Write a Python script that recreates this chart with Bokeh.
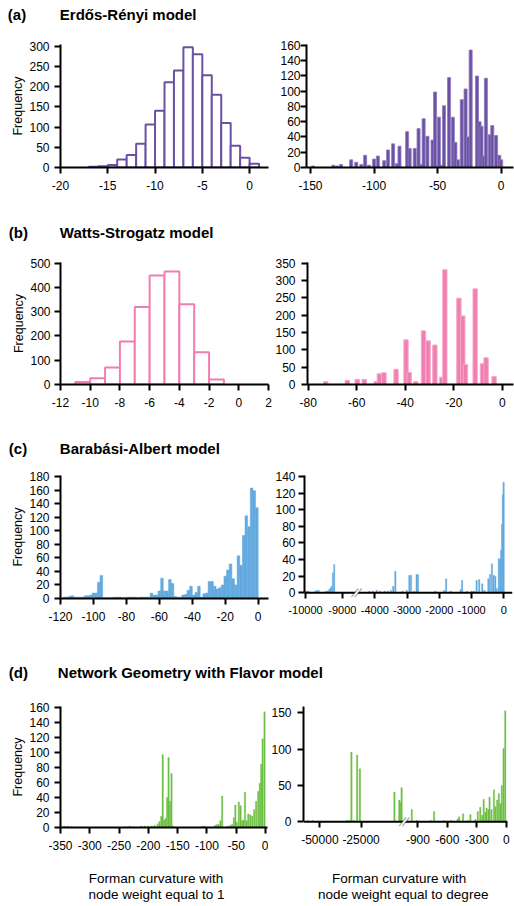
from bokeh.plotting import figure
from bokeh.layouts import column, row
from bokeh.models import Range1d, FixedTicker, PolyAnnotation, Span
from bokeh.core.properties import value
from bokeh.embed import file_html
from bokeh.resources import INLINE

# ---------------------------------------------------------------- data
# (a) Erdős-Rényi model
er_one_edges = [-17, -16, -15, -14, -13, -12, -11, -10, -9, -8, -7, -6, -5, -4, -3, -2, -1, 0, 1]
er_one_counts = [2, 3, 6, 20, 31, 59, 106, 140, 211, 240, 297, 280, 228, 180, 110, 54, 24, 9]
er_one_xticks = [-20, -15, -10, -5, 0]
er_one_yticks = [0, 50, 100, 150, 200, 250, 300]

er_deg_x = [-148, -132, -129, -126, -118, -114, -110, -107, -104, -100, -97, -92, -89, -85, -82, -80,
            -74, -72, -68, -65, -63, -61, -58, -54, -52, -49, -47, -45, -41, -38, -36, -34, -31, -28,
            -26, -24, -19, -17, -15.5, -13.8, -12, -9, -7, -4, -1.5, 0]
er_deg_y = [2, 3, 2, 4, 10, 7, 4, 16, 3, 11, 15, 9, 23, 31, 5, 28,
            47, 25, 25, 51, 4, 64, 41, 36, 99, 66, 3, 81, 118, 66, 33, 10, 89, 103,
            40, 154, 120, 60, 54, 15, 117, 43, 55, 42, 16, 10]
er_deg_xticks = [-150, -100, -50, 0]
er_deg_yticks = [0, 20, 40, 60, 80, 100, 120, 140, 160]

# (b) Watts-Strogatz model
ws_one_edges = [-11, -10, -9, -8, -7, -6, -5, -4, -3, -2, -1]
ws_one_counts = [10, 26, 70, 177, 320, 449, 466, 331, 133, 21]
ws_one_xticks = [-12, -10, -8, -6, -4, -2, 0, 2]
ws_one_yticks = [0, 100, 200, 300, 400, 500]

ws_deg_x = [-72.8, -63.9, -59.8, -56.9, -52.0, -50.7, -48.8, -43.8, -39.7, -38.4, -35.7, -32.5,
            -30.6, -27.8, -25.0, -23.7, -17.9, -16.3, -15.2, -11.2, -8.2, -6.7, -3.4]
ws_deg_y = [8, 12, 15, 15, 8, 31, 34, 44, 129, 35, 8, 155,
            126, 114, 21, 331, 249, 198, 58, 276, 60, 77, 23]
ws_deg_xticks = [-80, -60, -40, -20, 0]
ws_deg_yticks = [0, 50, 100, 150, 200, 250, 300, 350]

# (c) Barabási-Albert model
ba_one_x = [-0.8, -2.4, -4.0, -5.6, -7.2, -8.8, -10.4, -12.0, -13.6, -15.2,
            -16.8, -18.4, -20.0, -21.6, -23.2, -24.8, -26.4, -28.0, -29.6, -31.2,
            -32.8, -34.4, -36.0, -37.6, -39.2, -40.8, -42.4, -44.0, -45.6, -47.2,
            -48.8, -50.4, -52.0, -53.6, -55.2, -56.8, -58.4, -60.0, -61.6, -63.2,
            -64.8, -66.4, -68.0, -69.6, -71.2, -72.8, -74.4, -76.0, -77.6, -79.2,
            -80.8, -82.4, -84.0, -85.6, -87.2, -88.8, -90.4, -92.0, -93.6, -95.2,
            -96.8, -98.4, -100.0, -101.6, -103.2, -104.8, -106.4, -108.0, -109.6, -111.2,
            -112.8, -114.4, -116.0, -117.6]
ba_one_y = [134, 159, 163, 106, 122, 93, 49, 63, 20, 29,
            51, 42, 33, 20, 16, 14, 18, 25, 25, 8,
            7, 2, 18, 9, 5, 18, 12, 6, 5, 2,
            2, 3, 22, 28, 11, 11, 30, 11, 5, 5,
            8, 2, 2, 2, 2, 1, 2, 2, 2, 2,
            1, 1, 2, 2, 2, 1, 1, 1, 1, 34,
            24, 8, 8, 5, 4, 4, 2, 2, 2, 2,
            4, 3, 2, 2]
ba_one_xticks = [-120, -100, -80, -60, -40, -20, 0]
ba_one_yticks = [0, 20, 40, 60, 80, 100, 120, 140, 160, 180]

ba_deg_far_x = [-9970, -9920, -9740, -9690, -9640, -9450, -9400, -9360, -9320, -9285, -9255, -9220]
ba_deg_far_y = [2, 2, 2, 3, 3, 2, 2, 4, 6, 8, 24, 34]
ba_deg_near_x = [-4170, -4060, -3940, -3840, -3700, -3600, -3500, -3430, -3365, -3140, -3010,
                 -2930, -2880, -2780, -2705, -2665, -2125, -1850, -1790, -1650, -1340, -1295,
                 -1140, -1000, -930, -845, -765, -670, -600, -480, -430, -370, -320, -265,
                 -215, -155, -115, -85, -55, -30, -8]
ba_deg_near_y = [2, 2, 3, 2, 2, 2, 3, 8, 26, 2, 3,
                 21, 21, 2, 22, 22, 2, 3, 17, 2, 4, 15,
                 2, 2, 2, 15, 16, 11, 3, 17, 22, 35, 21, 20,
                 5, 41, 40, 51, 82, 118, 133]
ba_deg_far_ticks = [-10000, -9000]
ba_deg_near_ticks = [-4000, -3000, -2000, -1000, 0]
ba_deg_yticks = [0, 20, 40, 60, 80, 100, 120, 140]

# (d) Network Geometry with Flavor model
ngf_one_x = [-344, -338, -332, -240, -232, -226, -212, -206, -200, -194, -189, -184, -181, -178,
             -175.5, -173, -170.5, -168, -165.5, -163, -160.5, -157.5, -108, -104, -86, -83, -80,
             -77, -74, -64, -60, -57, -54, -51.5, -49, -45.5, -42.5, -40, -38, -35, -32.3, -29.5,
             -26, -22.7, -19.3, -16, -12.5, -9.7, -7.4, -5, -1.7]
ngf_one_y = [2, 2, 1, 1, 2, 1, 2, 2, 2, 2, 3, 5, 8, 15,
             97, 10, 12, 40, 93, 35, 72, 2, 2, 2, 3, 4, 4,
             9, 42, 2, 3, 4, 13, 30, 7, 34, 29, 9, 10, 47, 9, 18,
             17, 15, 24, 35, 48, 59, 84, 118, 154]
ngf_one_xticks = [-350, -300, -250, -200, -150, -100, -50, 0]
ngf_one_yticks = [0, 20, 40, 60, 80, 100, 120, 140, 160]

ngf_deg_far_x = [-57340, -54370, -33500, -32000, -30850, -29500, -27400, -25700, -4760, -1790, -1300, -400]
ngf_deg_far_y = [2, 2, 2, 2, 96, 2, 92, 73, 41, 30, 27, 47]
ngf_deg_near_x = [-963, -912, -767, -735, -635, -560, -495, -480, -440, -390, -365, -315, -290,
                  -265, -245, -230, -212, -200, -182, -170, -150, -125, -110, -92, -75, -60, -45,
                  -27, -10]
ngf_deg_near_y = [17, 2, 2, 14, 2, 2, 4, 7, 11, 2, 10, 3, 14,
                  20, 9, 31, 13, 19, 17, 34, 17, 44, 21, 30, 39, 25, 50,
                  101, 153]
ngf_deg_far_ticks = [-50000, -25000]
ngf_deg_near_ticks = [-900, -600, -300, 0]
ngf_deg_yticks = [0, 50, 100, 150]

titles = ["Erdős-Rényi model", "Watts-Strogatz model", "Barabási-Albert model",
          "Network Geometry with Flavor model"]
panel_tags = ["(a)", "(b)", "(c)", "(d)"]
xlabel_one = ["Forman curvature with", "node weight equal to 1"]
xlabel_deg = ["Forman curvature with", "node weight equal to degree"]

# ---------------------------------------------------------------- style
FONT = "Liberation Sans"
PURPLE = "#6a51a3"
PURPLE_EDGE = "#8f7cc0"
PINK = "#f07fb1"
PINK_EDGE = "#f6a9cb"
BLUE = "#62aadf"
GREEN = "#6cbf45"
PAGE_W = 514
BELOW_PX = 6     # room under the zero line of a broken-axis panel
TEXT_LIFT = 4.5  # compensation for where the text glyph puts its alphabetic baseline


def ba_far_pos(v):
    """Compressed segment left of the axis break (Barabási-Albert, degree weight)."""
    return -6151 + (v + 10000) * 1.142


def ngf_far_pos(v):
    """Compressed segment left of the axis break (NGF, degree weight)."""
    return -1480 + (v + 25000) * 0.0168


def make_fig(width, height, borders, xr, yr, xticks, yticks, ystandoff,
             xoverrides=None, xlabel_size="12px", ylabel=None, broken=False):
    bl, br, bt, bb = borders
    p = figure(width=width, height=height, x_range=Range1d(*xr), y_range=Range1d(*yr),
               min_border_left=bl, min_border_right=br, min_border_top=bt, min_border_bottom=bb,
               output_backend="svg", toolbar_location=None, tools="", title=None)
    p.outline_line_color = None
    p.background_fill_color = "white"
    p.border_fill_color = "white"
    p.xgrid.visible = False
    p.ygrid.visible = False
    p.xaxis.ticker = FixedTicker(ticks=xticks, minor_ticks=[])
    p.yaxis.ticker = FixedTicker(ticks=yticks, minor_ticks=[])
    for ax in (p.xaxis[0], p.yaxis[0]):
        ax.axis_line_width = 2
        ax.axis_line_color = "black"
        ax.major_tick_line_width = 2
        ax.major_tick_line_color = "black"
        ax.major_tick_in = 0
        ax.major_tick_out = 6
        ax.minor_tick_line_color = None
        ax.major_label_text_font = FONT
        ax.major_label_text_font_size = "12px"
        ax.major_label_text_color = "black"
    p.xaxis.major_label_text_font_size = xlabel_size
    p.xaxis.major_label_standoff = 7
    p.yaxis.major_label_standoff = ystandoff
    p.xaxis.major_label_overrides = xoverrides if xoverrides else {t: str(t) for t in xticks}
    if broken:
        # zero line drawn inside the frame so that the break marks can cross it
        p.xaxis.axis_line_color = None
        p.xaxis.major_tick_in = BELOW_PX
        p.xaxis.major_tick_out = 0
        p.yaxis.bounds = (0, yr[1])
        p.add_layout(Span(location=0, dimension="width", line_color="black", line_width=2))
    if ylabel:
        p.yaxis.axis_label = ylabel
        p.yaxis.axis_label_text_font = FONT
        p.yaxis.axis_label_text_font_size = "12.5px"
        p.yaxis.axis_label_text_font_style = "normal"
        p.yaxis.axis_label_text_color = "black"
        p.yaxis.axis_label_standoff = 1
    return p


def text_strip(height, xs, ys, texts, size, bold, align):
    p = figure(width=PAGE_W, height=height, x_range=Range1d(0, PAGE_W), y_range=Range1d(height, 0),
               x_axis_type=None, y_axis_type=None, min_border_left=0, min_border_right=0,
               min_border_top=0, min_border_bottom=0, output_backend="svg",
               toolbar_location=None, tools="", title=None)
    p.outline_line_color = None
    p.background_fill_color = "white"
    p.border_fill_color = "white"
    p.text(x=xs, y=[y - TEXT_LIFT for y in ys], text=texts, text_font=value(FONT),
           text_font_size=size, text_font_style="bold" if bold else "normal",
           text_align=align, text_baseline="alphabetic", text_color="black")
    return p


def add_break(p, cx, ux, uy):
    """Two slanted strokes over a white gap in the zero line; ux/uy = data units per pixel."""
    half_w, half_h, gap = 3.5, 4.5, 1.7

    def xs_at(off, ypx):
        return cx + (off + half_w * ypx / half_h) * ux

    p.add_layout(PolyAnnotation(
        xs=[xs_at(-gap, -2.4), xs_at(gap, -2.4), xs_at(gap, 2.4), xs_at(-gap, 2.4)],
        ys=[-2.4 * uy, -2.4 * uy, 2.4 * uy, 2.4 * uy],
        xs_units="data", ys_units="data",
        fill_color="white", fill_alpha=1, line_color=None))
    for off in (-gap, gap):
        p.add_layout(PolyAnnotation(
            xs=[xs_at(off, -half_h), xs_at(off, half_h)],
            ys=[-half_h * uy, half_h * uy],
            xs_units="data", ys_units="data",
            fill_alpha=0, line_color="black", line_width=1.4))


# ---------------------------------------------------------------- titles
t_a = text_strip(26, [7.3, 59.3], [18.3, 18.3], [panel_tags[0], titles[0]], "15px", True, "left")
t_b = text_strip(44, [8.3, 59.3], [36.7, 36.7], [panel_tags[1], titles[1]], "15px", True, "left")
t_c = text_strip(40, [8.3, 59.3], [32.7, 32.7], [panel_tags[2], titles[2]], "15px", True, "left")
t_d = text_strip(54, [8.3, 57.3], [46.7, 46.7], [panel_tags[3], titles[3]], "15px", True, "left")

# ---------------------------------------------------------------- row (a)
a_l = make_fig(272, 174, (60, 4, 18, 33), (-20, 2), (0, 304),
               er_one_xticks, er_one_yticks, 5, ylabel="Frequency")
a_l.quad(left=er_one_edges[:-1], right=er_one_edges[1:], bottom=0, top=er_one_counts,
         fill_color="white", line_color=PURPLE, line_width=2)
a_r = make_fig(242, 174, (34, 1, 18, 33), (-153.15, 9.7), (0, 161.3),
               er_deg_xticks, er_deg_yticks, 0)
a_r.vbar(x=er_deg_x, width=2.4, bottom=0, top=er_deg_y,
         fill_color=PURPLE, line_color=PURPLE_EDGE, line_width=0.8)

# ---------------------------------------------------------------- row (b)
b_l = make_fig(272, 176, (60, 4, 18, 36), (-12, 2), (0, 503),
               ws_one_xticks, ws_one_yticks, 4, ylabel="Frequency")
b_l.quad(left=ws_one_edges[:-1], right=ws_one_edges[1:], bottom=0, top=ws_one_counts,
         fill_color="white", line_color=PINK, line_width=2)
b_r = make_fig(242, 176, (34, 1, 18, 36), (-80.3, 4.6), (0, 352),
               ws_deg_xticks, ws_deg_yticks, 6)
b_r.vbar(x=ws_deg_x, width=1.8, bottom=0, top=ws_deg_y,
         fill_color=PINK, line_color=PINK_EDGE, line_width=1)

# ---------------------------------------------------------------- row (c)
c_l = make_fig(272, 170, (60, 4, 15, 32), (-120, 6.25), (0, 181.5),
               ba_one_xticks, ba_one_yticks, 5, ylabel="Frequency")
c_l.vbar(x=ba_one_x, width=1.6, bottom=0, top=ba_one_y,
         fill_color=BLUE, line_color=BLUE, line_width=0.5)

ba_ticks = [round(ba_far_pos(t)) for t in ba_deg_far_ticks] + ba_deg_near_ticks
ba_labels = {pos: str(t) for pos, t in zip(ba_ticks, ba_deg_far_ticks + ba_deg_near_ticks)}
c_uy = 141.1 / 123
c_r = make_fig(242, 170, (31, 2, 15, 32 - BELOW_PX), (-6182, 268), (-BELOW_PX * c_uy, 141.1),
               ba_ticks, ba_deg_yticks, 3, xoverrides=ba_labels, xlabel_size="11px",
               broken=True)
c_r.vbar(x=[ba_far_pos(v) for v in ba_deg_far_x], width=35 * 1.142, bottom=0, top=ba_deg_far_y,
         fill_color=BLUE, line_color=BLUE, line_width=0.3)
c_r.vbar(x=ba_deg_near_x, width=45, bottom=0, top=ba_deg_near_y,
         fill_color=BLUE, line_color=BLUE, line_width=0.3)
add_break(c_r, -4568, (268 + 6182) / 209, c_uy)

# ---------------------------------------------------------------- row (d)
d_l = make_fig(268, 173, (60, 1, 22, 30), (-350, 3.4), (0, 161),
               ngf_one_xticks, ngf_one_yticks, 5, ylabel="Frequency")
d_l.vbar(x=ngf_one_x, width=2.4, bottom=0, top=ngf_one_y,
         fill_color=GREEN, line_color=GREEN, line_width=0.3)

ngf_ticks = [round(ngf_far_pos(t)) for t in ngf_deg_far_ticks] + ngf_deg_near_ticks
ngf_labels = {pos: str(t) for pos, t in zip(ngf_ticks, ngf_deg_far_ticks + ngf_deg_near_ticks)}
d_uy = 158.8 / 121
d_r = make_fig(246, 173, (31, 7, 22, 30 - BELOW_PX), (-2067, 13), (-BELOW_PX * d_uy, 158.8),
               ngf_ticks, ngf_deg_yticks, 6, xoverrides=ngf_labels, broken=True)
d_r.vbar(x=[ngf_far_pos(v) for v in ngf_deg_far_x], width=15, bottom=0, top=ngf_deg_far_y,
         fill_color=GREEN, line_color=GREEN, line_width=0.3)
d_r.vbar(x=ngf_deg_near_x, width=14, bottom=0, top=ngf_deg_near_y,
         fill_color=GREEN, line_color=GREEN, line_width=0.3)
add_break(d_r, -1040, (13 + 2067) / 208, d_uy)

# ---------------------------------------------------------------- x-axis titles
t_x = text_strip(49, [155.5, 156, 398.7, 402.7], [25, 41.3, 25, 41.3],
                 [xlabel_one[0], xlabel_one[1], xlabel_deg[0], xlabel_deg[1]],
                 "13.5px", False, "center")

layout = column(t_a, row(a_l, a_r), t_b, row(b_l, b_r), t_c, row(c_l, c_r),
                t_d, row(d_l, d_r), t_x)

open("out.html", "w").write(file_html(layout, INLINE))
